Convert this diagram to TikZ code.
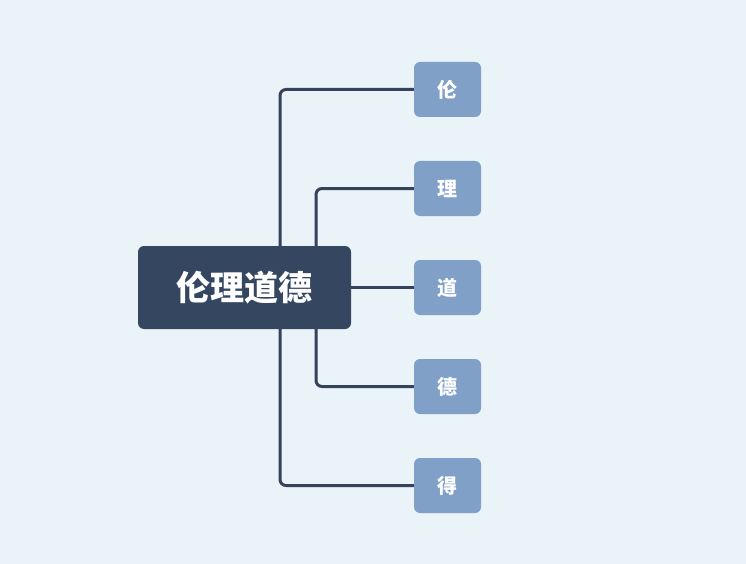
\documentclass[tikz,border=0pt]{standalone}
\usepackage{fontspec}
\newfontfamily\cjk{Noto Sans CJK SC}
\usepackage{tikz}
\usetikzlibrary{positioning}
\definecolor{bgcol}{RGB}{234,243,248}
\definecolor{rootcol}{RGB}{52,70,96}
\definecolor{leafcol}{RGB}{128,160,200}
\definecolor{linkcol}{RGB}{52,66,90}

\tikzset{
  rootbox/.style={fill=rootcol,rounded corners=6pt,minimum width=213pt,minimum height=83pt,
    text=white,font=\cjk\bfseries\fontsize{34}{36}\selectfont,inner sep=0pt},
  leafbox/.style={fill=leafcol,rounded corners=6pt,minimum width=67pt,minimum height=55pt,
    text=white,font=\cjk\bfseries\fontsize{20}{22}\selectfont,inner sep=0pt},
  link/.style={draw=linkcol,line width=3pt,rounded corners=6pt}
}

\begin{document}
\begin{tikzpicture}[x=1pt,y=-1pt]
\fill[bgcol] (0,0) rectangle (746,564);
\useasboundingbox (0,0) rectangle (746,564);
% root and leaves
\node[rootbox] (root) at (244.5,287.5) {伦理道德};
\node[leafbox] (lun) at (447.5,89.5) {伦};
\node[leafbox] (li) at (447.5,188.5) {理};
\node[leafbox] (dao) at (447.5,287.5) {道};
\node[leafbox] (de) at (447.5,386.5) {德};
\node[leafbox] (dei) at (447.5,485.5) {得};
% connectors
\draw[link] ([xshift=35.5pt]root.north) |- (lun.west);
\draw[link] ([xshift=71.5pt]root.north) |- (li.west);
\draw[link] (root.east) -- (dao.west);
\draw[link] ([xshift=71.5pt]root.south) |- (de.west);
\draw[link] ([xshift=35.5pt]root.south) |- (dei.west);
\end{tikzpicture}
\end{document}
